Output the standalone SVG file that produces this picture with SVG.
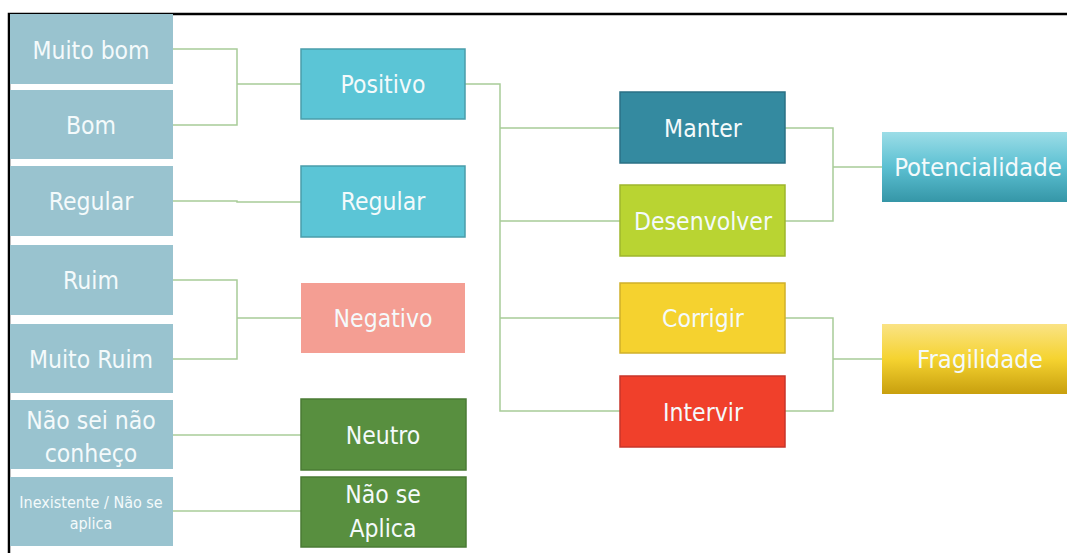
<svg xmlns="http://www.w3.org/2000/svg" width="1067" height="553" viewBox="0 0 1067 553">
<defs>
<style>
text{font-family:"DejaVu Sans Condensed","DejaVu Sans","Liberation Sans",sans-serif;font-stretch:condensed;font-size:24.5px;fill:#F4FAFB;text-anchor:middle}
.src rect{fill:#99C3CF}
.pos rect{fill:#5BC5D6;stroke:#4A9DAA;stroke-width:1.5}
.con path{fill:none;stroke:#A8CC98;stroke-width:1.5}
</style>
<linearGradient id="gPot" x1="0" y1="0" x2="0" y2="1">
<stop offset="0" stop-color="#9CDDE7"/>
<stop offset="0.5" stop-color="#5CC0D2"/>
<stop offset="1" stop-color="#3596A7"/>
</linearGradient>
<linearGradient id="gFra" x1="0" y1="0" x2="0" y2="1">
<stop offset="0" stop-color="#FAE385"/>
<stop offset="0.5" stop-color="#F5D330"/>
<stop offset="1" stop-color="#C89F0E"/>
</linearGradient>
</defs>
<rect width="1067" height="553" fill="#FFFFFF"/>
<path d="M9 553V14H1067" fill="none" stroke="#000000" stroke-width="2.5"/>

<g class="con" id="connectors">
<path d="M173 49H237V125H173M237 84H301"/>
<path d="M173 201H237V202H301"/>
<path d="M173 280H237V359H173M237 318H301"/>
<path d="M173 435H301"/>
<path d="M173 511H301"/>
<path d="M465 84H500V411H620M500 128H620M500 221H620M500 318H620"/>
<path d="M785 128H833V221H785M833 167H882"/>
<path d="M785 318H833V411H785M833 359H882"/>
</g>

<g class="src" id="n-muitobom"><rect x="10" y="14" width="163" height="70"/><text x="91" y="59">Muito bom</text></g>
<g class="src" id="n-bom"><rect x="10" y="90" width="163" height="69"/><text x="91" y="134">Bom</text></g>
<g class="src" id="n-regular1"><rect x="10" y="166" width="163" height="70"/><text x="91" y="210">Regular</text></g>
<g class="src" id="n-ruim"><rect x="10" y="245" width="163" height="70"/><text x="91" y="289">Ruim</text></g>
<g class="src" id="n-muitoruim"><rect x="10" y="324" width="163" height="69"/><text x="91" y="368">Muito Ruim</text></g>
<g class="src" id="n-naosei"><rect x="10" y="400" width="163" height="69"/><text x="91" y="429">Não sei não</text><text x="91" y="462">conheço</text></g>
<g class="src" id="n-inexistente"><rect x="10" y="477" width="163" height="69"/><text x="91" y="508" style="font-size:16px">Inexistente / Não se</text><text x="91" y="529" style="font-size:16px">aplica</text></g>

<g class="pos" id="n-positivo"><rect x="301" y="49" width="164" height="70"/><text x="383" y="93">Positivo</text></g>
<g class="pos" id="n-regular2"><rect x="301" y="166" width="164" height="71"/><text x="383" y="210">Regular</text></g>
<g id="n-negativo"><rect x="301" y="283" width="164" height="70" fill="#F49E93"/><text x="383" y="327">Negativo</text></g>
<g id="n-neutro"><rect x="301" y="399" width="165" height="71" fill="#588F3F" stroke="#4A7B35" stroke-width="1.5"/><text x="383" y="444">Neutro</text></g>
<g id="n-naoseaplica"><rect x="301" y="477" width="165" height="70" fill="#588F3F" stroke="#4A7B35" stroke-width="1.5"/><text x="383" y="503">Não se</text><text x="383" y="537">Aplica</text></g>

<g id="n-manter"><rect x="620" y="92" width="165" height="71" fill="#348AA0" stroke="#2A7085" stroke-width="1.5"/><text x="703" y="137">Manter</text></g>
<g id="n-desenvolver"><rect x="620" y="185" width="165" height="71" fill="#B9D432" stroke="#9EB62C" stroke-width="1.5"/><text x="703" y="230">Desenvolver</text></g>
<g id="n-corrigir"><rect x="620" y="283" width="165" height="70" fill="#F5D22F" stroke="#D0B02A" stroke-width="1.5"/><text x="703" y="327">Corrigir</text></g>
<g id="n-intervir"><rect x="620" y="376" width="165" height="71" fill="#F0402B" stroke="#C8352A" stroke-width="1.5"/><text x="703" y="421">Intervir</text></g>

<g id="n-potencialidade"><rect x="882" y="132" width="190" height="70" fill="url(#gPot)"/><text x="978" y="176" style="font-size:25.5px">Potencialidade</text></g>
<g id="n-fragilidade"><rect x="882" y="324" width="190" height="70" fill="url(#gFra)"/><text x="980" y="368" style="font-size:25.5px">Fragilidade</text></g>
</svg>
